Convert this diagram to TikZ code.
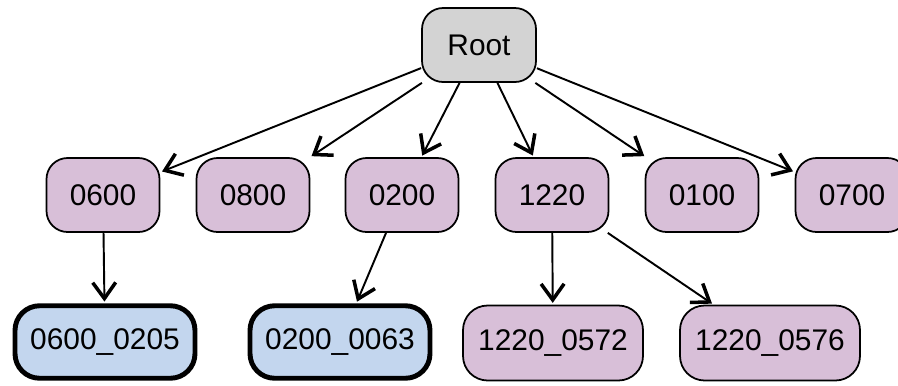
\documentclass[tikz,border=0pt]{standalone}
\usepackage{fontspec}
\setmainfont{Liberation Sans}
\usetikzlibrary{arrows.meta,positioning}
\definecolor{rootgray}{HTML}{D3D3D3}
\definecolor{groupfill}{HTML}{D8BFD8}
\definecolor{leaffill}{HTML}{C3D6EE}
\tikzset{
    rootbox/.style={
    rectangle,rounded corners=12pt,draw=black,line width=1pt,fill=rootgray,
    minimum width=2.28cm,minimum height=1.48cm,font=\fontsize{17}{20}\selectfont
    },
    groupbox/.style={
    rectangle,rounded corners=12pt,draw=black,line width=1pt,fill=groupfill,
    minimum width=2.26cm,minimum height=1.48cm,font=\fontsize{17}{20}\selectfont
    },
    subbox/.style={
    rectangle,rounded corners=14pt,draw=black,line width=1pt,fill=groupfill,
    minimum width=3.6cm,minimum height=1.5cm,font=\fontsize{17}{20}\selectfont
    },
    markedbox/.style={
    rectangle,rounded corners=14pt,draw=black,line width=2.8pt,fill=leaffill,
    minimum width=3.6cm,minimum height=1.45cm,font=\fontsize{17}{20}\selectfont
    },
}

\begin{document}
\begin{tikzpicture}[shorten >=1pt, auto,
    >={Straight Barb[length=3.2mm,width=4.6mm,line width=2pt]}]
   \useasboundingbox (0,0) rectangle (17.96,-7.7);
   \clip (0,0) rectangle (17.96,-7.7);
   \node[rootbox] (root) at (9.58,-0.9) {Root};
   \node[groupbox] (g0600) at (2.06,-3.9) {0600};
   \node[groupbox] (g0800) at (5.06,-3.9) {0800};
   \node[groupbox] (g0200) at (8.04,-3.9) {0200};
   \node[groupbox] (g1220) at (11.04,-3.9) {1220};
   \node[groupbox] (g0100) at (14.04,-3.9) {0100};
   \node[groupbox] (g0700) at (17.04,-3.9) {0700};
   \node[markedbox] (s0600a) at (2.1,-6.84) {0600\_0205};
   \node[markedbox] (s0200a) at (6.8,-6.84) {0200\_0063};
   \node[subbox] (s1220a) at (11.06,-6.86) {1220\_0572};
   \node[subbox] (s1220b) at (15.4,-6.86) {1220\_0576};

  \path[->, line width=1.1pt]
    (root) edge (g0600)
           edge (g0800)
           edge (g0200)
           edge (g1220)
           edge (g0100)
           edge (g0700)
    (g0600) edge (s0600a)
    (g0200) edge (s0200a)
    (g1220) edge (s1220a)
            edge (s1220b);
  \end{tikzpicture}
\end{document}
